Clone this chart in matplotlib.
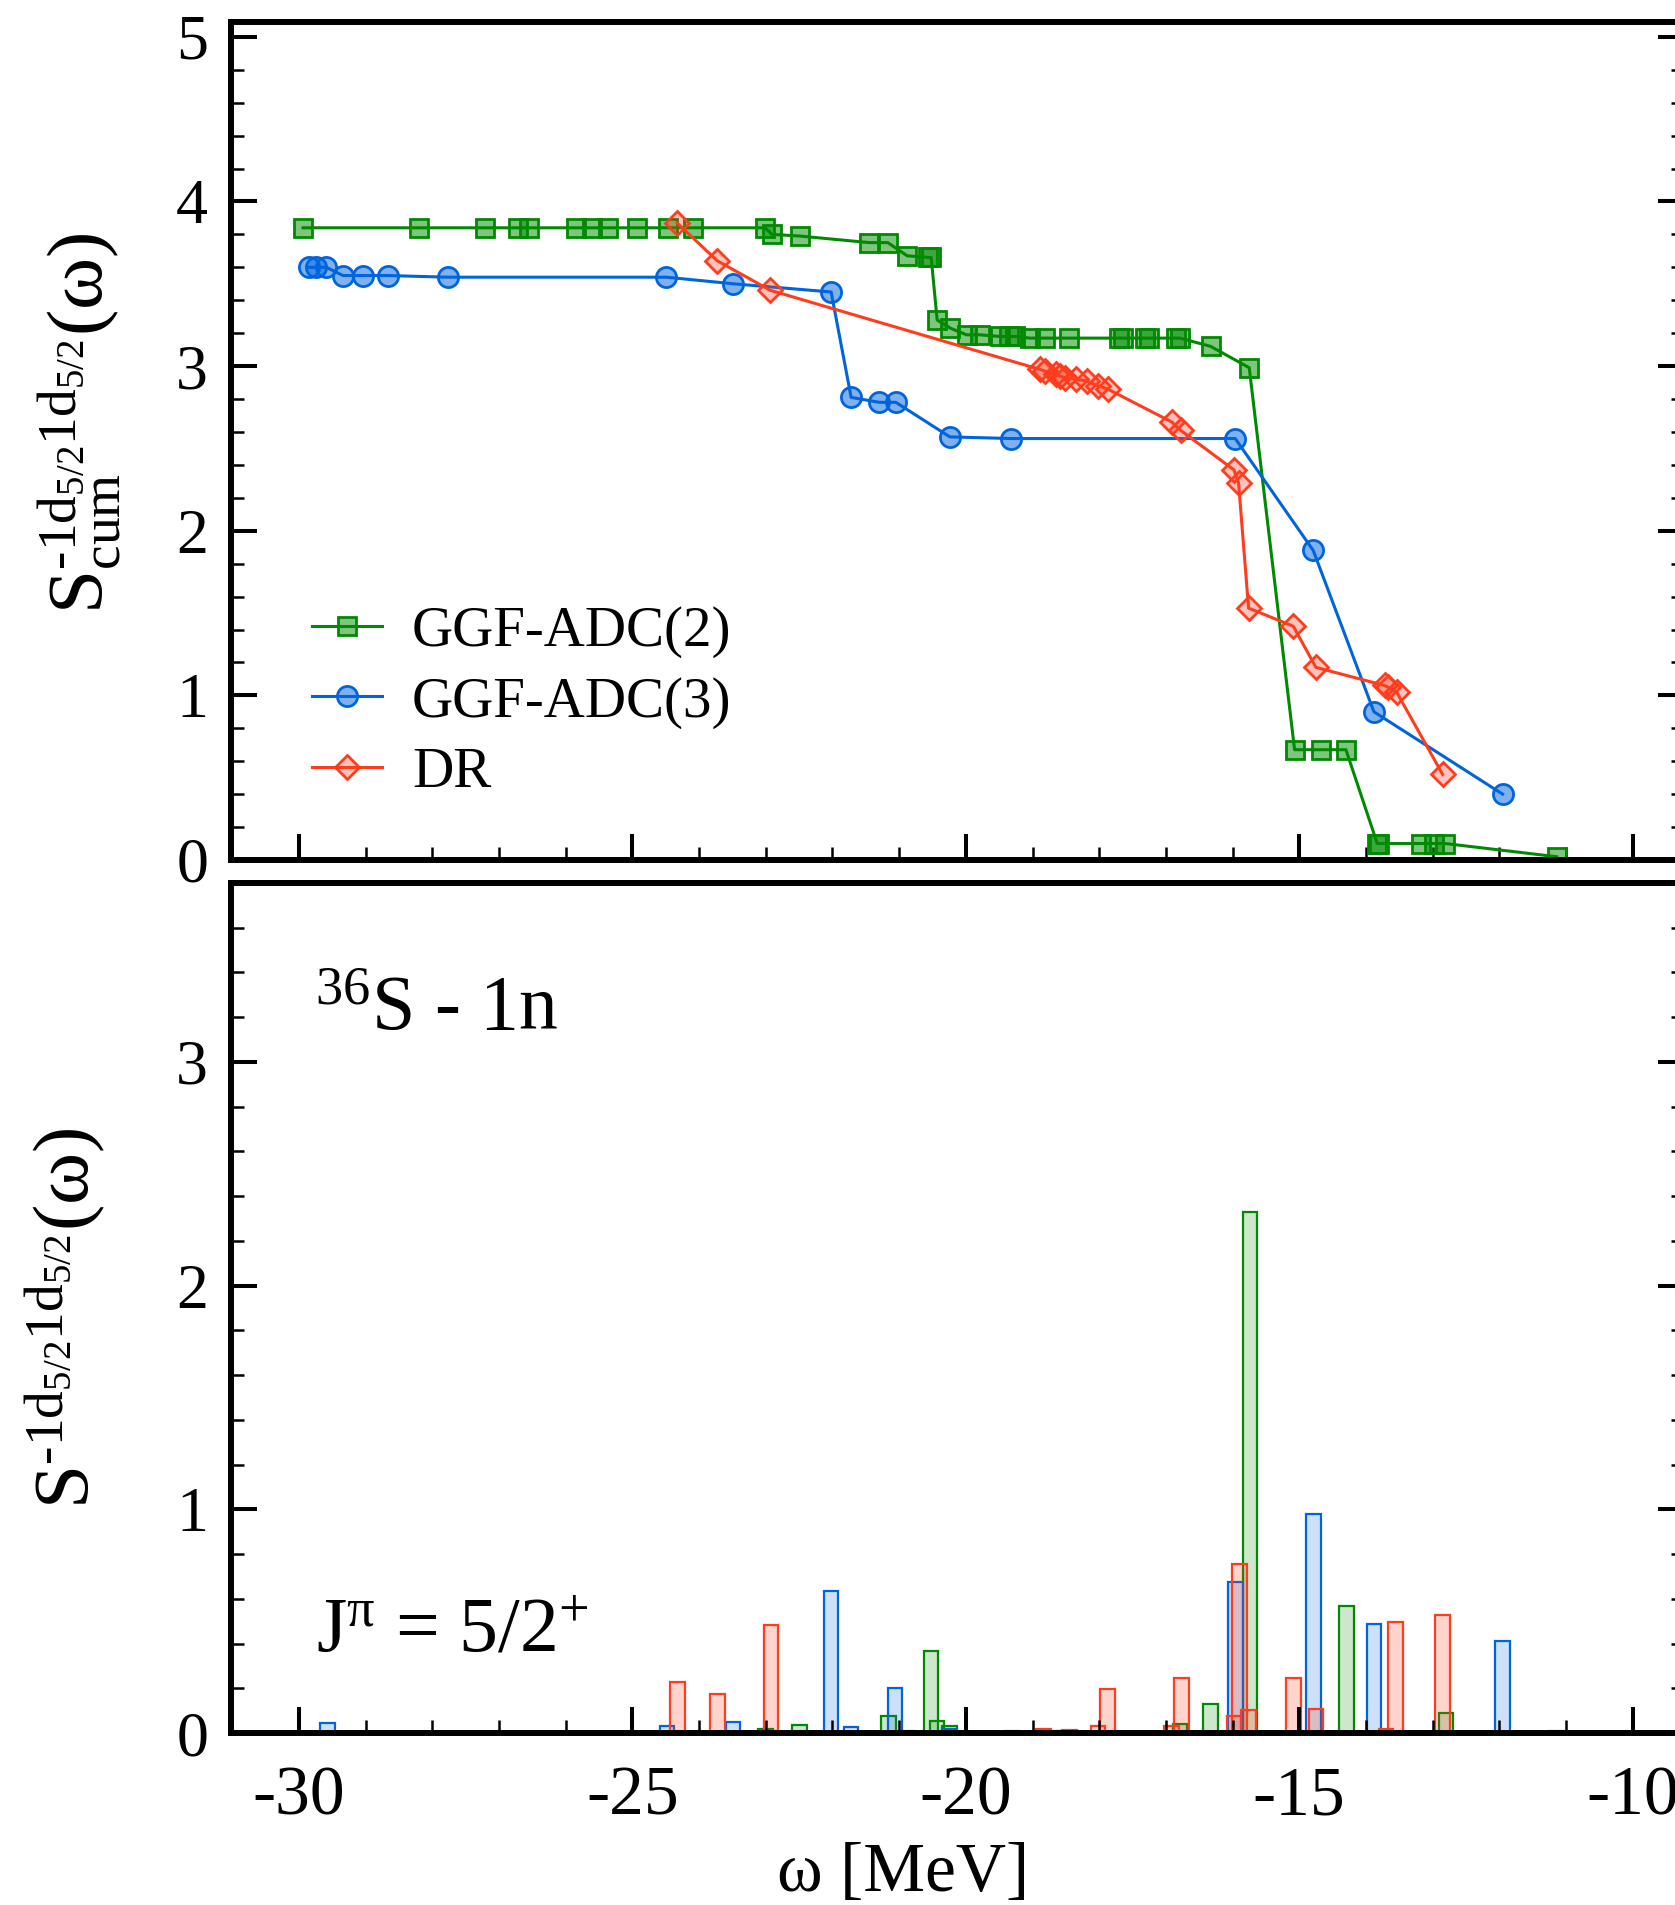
import matplotlib
matplotlib.use("Agg")
import matplotlib.pyplot as plt
from matplotlib.colors import to_rgba
from matplotlib.ticker import MultipleLocator

plt.rcParams["font.family"] = ["Liberation Serif", "DejaVu Serif"]
plt.rcParams["mathtext.fontset"] = "custom"
plt.rcParams["mathtext.rm"] = "Liberation Serif"
plt.rcParams["mathtext.it"] = "Liberation Serif:italic"
plt.rcParams["mathtext.default"] = "regular"
plt.rcParams["axes.unicode_minus"] = False

# ---- data: cumulative spectroscopic strength (upper panel) ----
adc2_cum_x = [-29.94, -28.20, -27.21, -26.72, -26.55, -25.85, -25.61, -25.37, -24.93, -24.47,
              -24.09, -23.01, -22.91, -22.49, -21.45, -21.17, -20.88, -20.56, -20.52, -20.43,
              -20.23, -19.99, -19.79, -19.49, -19.36, -19.26, -19.04, -18.82, -18.45, -17.71,
              -17.65, -17.32, -17.25, -16.85, -16.79, -16.33, -15.75, -15.07, -14.67, -14.30,
              -13.83, -13.80, -13.17, -12.98, -12.81, -11.14]
adc2_cum_y = [3.84, 3.84, 3.84, 3.84, 3.84, 3.84, 3.84, 3.84, 3.84, 3.84,
              3.84, 3.84, 3.80, 3.79, 3.75, 3.75, 3.67, 3.66, 3.66, 3.28,
              3.23, 3.19, 3.19, 3.18, 3.18, 3.18, 3.17, 3.17, 3.17, 3.17,
              3.17, 3.17, 3.17, 3.17, 3.17, 3.12, 2.99, 0.67, 0.67, 0.67,
              0.10, 0.10, 0.10, 0.10, 0.10, 0.02]

adc3_cum_x = [-29.85, -29.74, -29.59, -29.34, -29.04, -28.67, -27.77, -24.49, -23.49, -22.02,
              -21.72, -21.30, -21.05, -20.24, -19.32, -15.96, -14.79, -13.88, -11.95]
adc3_cum_y = [3.60, 3.60, 3.60, 3.55, 3.55, 3.55, 3.54, 3.54, 3.50, 3.45,
              2.81, 2.78, 2.78, 2.57, 2.56, 2.56, 1.88, 0.90, 0.40]

dr_cum_x = [-24.33, -23.73, -22.93, -18.89, -18.82, -18.65, -18.59, -18.52, -18.35, -18.19,
            -18.02, -17.87, -16.91, -16.78, -15.98, -15.91, -15.76, -15.09, -14.75, -13.72,
            -13.67, -13.54, -12.85]
dr_cum_y = [3.87, 3.64, 3.46, 2.98, 2.97, 2.95, 2.94, 2.93, 2.92, 2.91,
            2.88, 2.86, 2.66, 2.61, 2.37, 2.29, 1.53, 1.42, 1.17, 1.06,
            1.05, 1.02, 0.52]

# ---- data: individual strengths (lower panel) ----
adc2_bar_x = [-23.00, -22.90, -22.49, -21.16, -20.89, -20.52, -20.43, -20.24, -19.31, -16.79,
              -16.33, -15.74, -14.29, -12.80, -11.14]
adc2_bar_h = [0.020, 0.010, 0.036, 0.076, 0.010, 0.367, 0.054, 0.033, 0.010, 0.040,
              0.130, 2.330, 0.568, 0.090, 0.010]

adc3_bar_x = [-29.57, -27.77, -24.48, -23.49, -22.02, -21.72, -21.06, -20.24, -15.96, -14.79,
              -13.88, -11.95]
adc3_bar_h = [0.045, 0.005, 0.030, 0.049, 0.635, 0.025, 0.203, 0.016, 0.676, 0.980,
              0.488, 0.410]

dr_bar_x = [-24.32, -23.72, -22.92, -18.84, -18.70, -18.55, -18.45, -18.02, -17.88, -16.92,
            -16.77, -15.98, -15.90, -15.76, -15.09, -14.75, -13.70, -13.56, -12.85]
dr_bar_h = [0.227, 0.174, 0.483, 0.020, 0.010, 0.010, 0.015, 0.030, 0.196, 0.030,
            0.246, 0.077, 0.754, 0.105, 0.246, 0.107, 0.020, 0.497, 0.528]

labels = ["GGF-ADC(2)", "GGF-ADC(3)", "DR"]
x_ticks = [-30, -25, -20, -15, -10]

GREEN = "#008a00"
BLUE = "#0064dc"
RED = "#ff3c1e"

W, H = 1675, 1905
fig = plt.figure(figsize=(W / 100, H / 100), dpi=100)

ax_left = 231 / W
ax_width = (1684 - 231) / W
ax1 = fig.add_axes([ax_left, 1 - 860 / H, ax_width, (860 - 22) / H])
ax2 = fig.add_axes([ax_left, 1 - 1733 / H, ax_width, (1733 - 883) / H])

# upper panel
ax1.plot(adc2_cum_x, adc2_cum_y, "-s", color=GREEN, lw=2.2, ms=13.5, mew=2,
         mfc=to_rgba(GREEN, 0.5), mec=GREEN, label=labels[0])
ax1.plot(adc3_cum_x, adc3_cum_y, "-o", color=BLUE, lw=2.2, ms=14.5, mew=2,
         mfc=to_rgba(BLUE, 0.5), mec=BLUE, label=labels[1])
ax1.plot(dr_cum_x, dr_cum_y, "-D", color=RED, lw=2.2, ms=12.5, mew=2,
         mfc=to_rgba(RED, 0.3), mec=RED, label=labels[2])

ax1.legend(loc="upper left", bbox_to_anchor=(311.7 / W, 1 - 606 / H),
           bbox_transform=fig.transFigure, frameon=False, fontsize=41,
           handlelength=1.23, handletextpad=0.53, labelspacing=0.32,
           borderpad=0, borderaxespad=0, numpoints=1)

# lower panel
bw = 0.22
ax2.bar(adc2_bar_x, adc2_bar_h, width=bw, facecolor=to_rgba(GREEN, 0.2), edgecolor=GREEN, lw=1.6)
ax2.bar(adc3_bar_x, adc3_bar_h, width=bw, facecolor=to_rgba(BLUE, 0.2), edgecolor=BLUE, lw=1.6)
ax2.bar(dr_bar_x, dr_bar_h, width=bw, facecolor=to_rgba(RED, 0.22), edgecolor=RED, lw=1.6)

ax2.text(-29.76, 3.146, "$^{36}$S - 1n", fontsize=56, va="baseline", ha="left")
ax2.text(-29.74, 0.364, r"J$^{\pi}$ = 5/2$^{+}$", fontsize=56, va="baseline", ha="left")

for ax, ytop, yt in ((ax1, 5.09, range(0, 6)), (ax2, 3.80, range(0, 4))):
    ax.set_xlim(-31.02, -9.23)
    ax.set_ylim(0, ytop)
    ax.set_xticks(x_ticks)
    ax.set_yticks(list(yt))
    ax.xaxis.set_minor_locator(MultipleLocator(1))
    ax.yaxis.set_minor_locator(MultipleLocator(0.2))
    ax.tick_params(which="both", direction="in", top=False, right=True, bottom=True, left=True)
    ax.tick_params(which="major", length=18.7, width=2.9)
    ax.tick_params(which="minor", length=9.4, width=1.8)
    ax.tick_params(axis="x", labelsize=50, pad=24)
    ax.tick_params(axis="y", labelsize=46, pad=16.5)
    for sp in ax.spines.values():
        sp.set_linewidth(4.3)

ax1.tick_params(axis="x", labelbottom=False)

fig.text(80 / W, 1 - 423 / H,
         r"$S^{\text{-1d}_{5/2}\text{1d}_{5/2}}_{cum}(\omega)$",
         rotation=90, ha="center", va="center", fontsize=57)
fig.text(66 / W, 1 - 1318 / H,
         r"$S^{\text{-1d}_{5/2}\text{1d}_{5/2}}(\omega)$",
         rotation=90, ha="center", va="center", fontsize=57)
fig.text(903 / W, 1 - 1843 / H, "ω [MeV]", ha="center", va="top", fontsize=50)

fig.savefig("out.png", dpi=100)
